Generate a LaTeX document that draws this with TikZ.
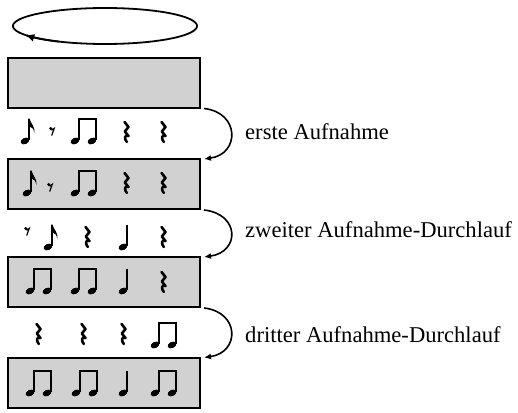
\documentclass[tikz,border=0pt]{standalone}
\usepackage{fontspec}
\setmainfont{Liberation Serif}
\usetikzlibrary{arrows.meta,calc}
\tikzset{
  box/.style={draw, line width=2pt, fill=black!18, minimum width=192pt, minimum height=50pt, inner sep=0pt, outer sep=0pt},
  lab/.style={anchor=base west, inner sep=0pt, font=\fontsize{22.6}{26}\selectfont},
  flow/.style={line width=1.6pt, -{Latex[length=7pt,width=6pt]}},
  head/.style={shift={#1}, rotate=25},
  pics/quarter/.style={code={
    \fill[head={(0,0)}] (0,0) ellipse (4.6 and 3.1);
    \draw[line width=1.4pt] (3.9,-1) -- (3.9,-22.5);
  }},
  pics/eighth/.style={code={
    \fill[head={(0,0)}] (0,0) ellipse (4.6 and 3.1);
    \draw[line width=1.4pt] (3.9,-1) -- (3.9,-22.5);
    \fill (3.2,-22.5) -- (4.6,-22.5) .. controls (5.5,-17) and (10.5,-15) .. (9.2,-8) .. controls (9,-12) and (7,-14) .. (4.6,-14.5) -- cycle;
  }},
  pics/pair/.style={code={
    \fill[head={(0,0)}] (0,0) ellipse (4.6 and 3.1);
    \draw[line width=1.4pt] (3.9,-1) -- (3.9,-22);
    \fill[head={(17,0)}] (0,0) ellipse (4.6 and 3.1);
    \draw[line width=1.4pt] (20.9,-1) -- (20.9,-22);
    \draw[line width=1.6pt] (3.2,-22) -- (21.6,-22);
  }},
  pics/qrest/.style={code={
    \draw[line width=2.6pt, line join=round, line cap=round] (-1.5,-10) -- (2.5,-5) -- (-1.2,-0.5) -- (2.5,4) .. controls (-1.5,2.5) and (-2,6.5) .. (0.8,10);
  }},
  pics/erest/.style={code={
    \fill (-1.2,-2.5) circle (1.7);
    \draw[line width=1.2pt] (-1.2,-1.2) .. controls (0,-1) .. (2.2,-2.6) -- (-0.3,4.5);
  }}
}
\begin{document}
\begin{tikzpicture}[x=1pt,y=-1pt]
\useasboundingbox (0,0) rectangle (518,412);
% loop ellipse
\draw[line width=1.8pt] plot[domain=0:360,samples=120,smooth] ({105+92*cos(\x)},{26+18*sin(\x)});
\draw[line width=1.8pt,-{Latex[length=9pt,width=8pt]}] plot[domain=120:150,samples=20,smooth] ({105+92*cos(\x)},{26+18*sin(\x)});
% boxes
\node[box] (b1) at (104,82.5) {};
\node[box] (b2) at (104,184) {};
\node[box] (b3) at (104,282) {};
\node[box] (b4) at (104,382.5) {};
% arrows
\draw[flow] ($(b1.south east)+(4,1)$) .. controls ($(b1.south east)+(40,5)$) and ($(b2.north east)+(40,-5)$) .. ($(b2.north east)+(4,0)$);
\draw[flow] ($(b2.south east)+(4,1)$) .. controls ($(b2.south east)+(40,5)$) and ($(b3.north east)+(40,-5)$) .. ($(b3.north east)+(4,0)$);
\draw[flow] ($(b3.south east)+(4,1)$) .. controls ($(b3.south east)+(40,5)$) and ($(b4.north east)+(40,-5)$) .. ($(b4.north east)+(4,0)$);
% labels
\node[lab] (l1) at (245,139) {erste Aufnahme};
\node[lab] (l2) at (245,237) {zweiter Aufnahme-Durchlauf};
\node[lab] (l3) at (245,342) {dritter Aufnahme-Durchlauf};
% row 1
\pic at (25,141) {eighth};
\pic at (52,131) {erest};
\pic at (75,141) {pair};
\pic at (126,132) {qrest};
\pic at (163,132) {qrest};
% box 2
\pic at (27,193) {eighth};
\pic at (50,187) {erest};
\pic at (75,193) {pair};
\pic at (126,183) {qrest};
\pic at (163,183) {qrest};
% row 2
\pic at (27,231) {erest};
\pic at (48,247) {eighth};
\pic at (87,237) {qrest};
\pic at (123,247) {quarter};
\pic at (163,237) {qrest};
% box 3
\pic at (30,291) {pair};
\pic at (75,291) {pair};
\pic at (123,291) {quarter};
\pic at (163,282) {qrest};
% row 3
\pic at (38,334) {qrest};
\pic at (83,334) {qrest};
\pic at (123,334) {qrest};
\pic at (155,345) {pair};
% box 4
\pic at (30,393) {pair};
\pic at (76,393) {pair};
\pic at (123,393) {quarter};
\pic at (155,393) {pair};
\end{tikzpicture}
\end{document}
